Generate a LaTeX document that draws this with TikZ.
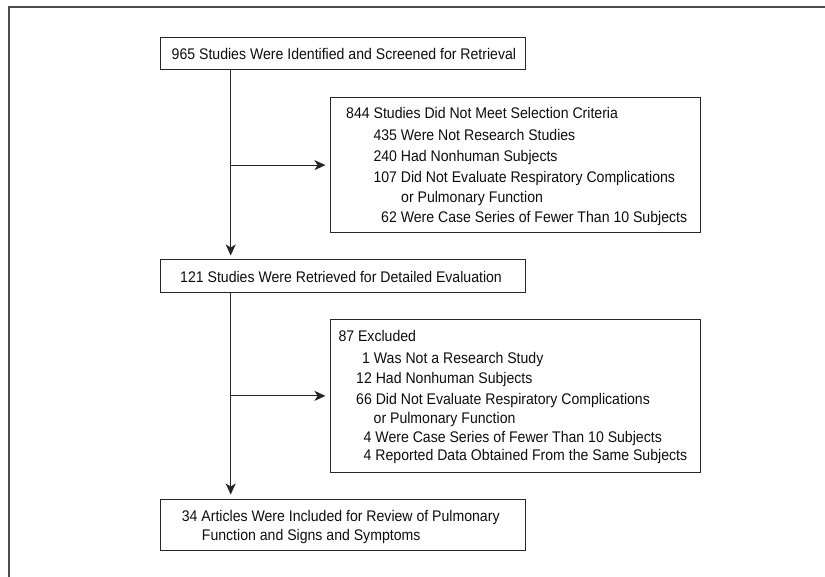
\documentclass[tikz,border=0pt]{standalone}
\usepackage{fontspec}
\setmainfont{Liberation Sans}[FakeStretch=0.915]
\usetikzlibrary{arrows.meta}
\begin{document}
\begin{tikzpicture}[x=1pt,y=-1pt,
  box/.style={draw=black!85, line width=1pt, rectangle, inner sep=0pt},
  txt/.style={anchor=base west, inner sep=0pt, font=\fontsize{15.4}{18}\selectfont, text=black!95},
  arr/.style={draw=black!85, line width=1pt, -{Stealth[length=11pt,width=10pt,inset=3pt]}, shorten >=4pt},
  frame/.style={draw=black!70, line width=1.3pt}
]
\useasboundingbox (0,0) rectangle (825,577);
% outer frame (top and left edges only)
\coordinate (fbl) at (9,577);
\coordinate (ftl) at (9,7);
\coordinate (ftr) at (825,7);
\draw[frame] (fbl) -- (ftl) -- (ftr);

% boxes
\node[box, minimum width=365pt, minimum height=32.7pt] (b1) at (343.2,53.65) {};
\node[box, minimum width=370pt, minimum height=135.7pt] (b2) at (515,165.15) {};
\node[box, minimum width=365pt, minimum height=32.7pt] (b3) at (343.2,276.35) {};
\node[box, minimum width=370pt, minimum height=153.2pt] (b4) at (515,395.9) {};
\node[box, minimum width=365.7pt, minimum height=51.7pt] (b5) at (342.85,524.85) {};

% texts
\node[txt] (t1) at (171.5,60) {965 Studies Were Identified and Screened for Retrieval};

\node[txt] (t2a) at (346,119) {844 Studies Did Not Meet Selection Criteria};
\node[txt] (t2b) at (373.3,140.5) {435 Were Not Research Studies};
\node[txt] (t2c) at (373.3,161.5) {240 Had Nonhuman Subjects};
\node[txt] (t2d) at (373.3,182.5) {107 Did Not Evaluate Respiratory Complications};
\node[txt] (t2e) at (401,202.3) {or Pulmonary Function};
\node[txt] (t2f) at (381,222.5) {62 Were Case Series of Fewer Than 10 Subjects};

\node[txt] (t3) at (180,283) {121 Studies Were Retrieved for Detailed Evaluation};

\node[txt] (t4a) at (338.3,341.7) {87 Excluded};
\node[txt] (t4b) at (362,363.3) {1 Was Not a Research Study};
\node[txt] (t4c) at (356,384) {12 Had Nonhuman Subjects};
\node[txt] (t4d) at (356,405) {66 Did Not Evaluate Respiratory Complications};
\node[txt] (t4e) at (373.5,424) {or Pulmonary Function};
\node[txt] (t4f) at (363.5,442.7) {4 Were Case Series of Fewer Than 10 Subjects};
\node[txt] (t4g) at (363.5,460.7) {4 Reported Data Obtained From the Same Subjects};

\node[txt] (t5a) at (181.7,521.5) {34 Articles Were Included for Review of Pulmonary};
\node[txt] (t5b) at (201.7,540.5) {Function and Signs and Symptoms};

% connectors
\coordinate (v) at (230.7,0);
\draw[arr] (b1.south -| v) -- (b3.north -| v);
\draw[arr] (b3.south -| v) -- (b5.north -| v);
\draw[arr] (b2.west -| v) -- (b2.west);
\draw[arr] (b4.west -| v) -- (b4.west);
\end{tikzpicture}
\end{document}
